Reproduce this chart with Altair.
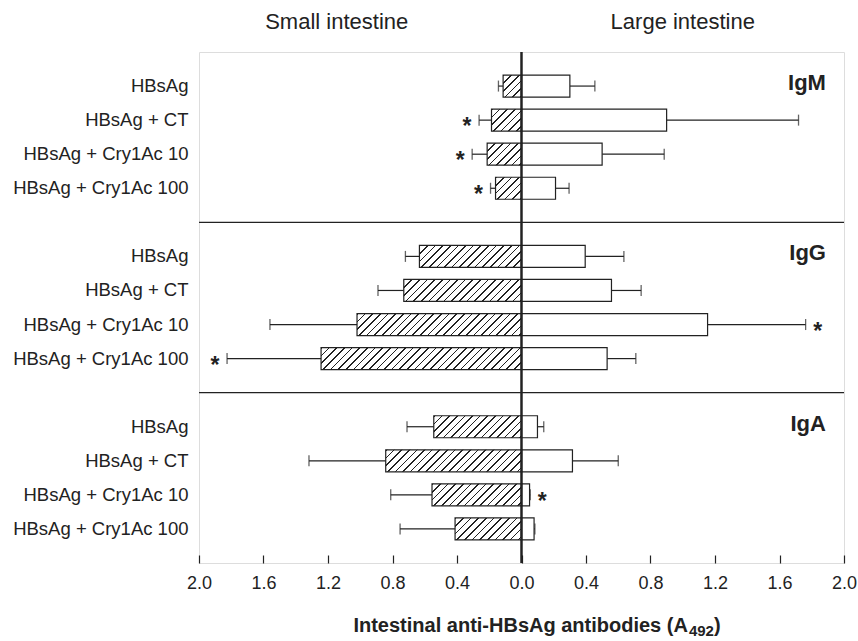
import math
import altair as alt
import pandas as pd

# ---------------- data ----------------
groups = ["HBsAg", "HBsAg + CT", "HBsAg + Cry1Ac 10", "HBsAg + Cry1Ac 100"]
isotypes = ["IgM", "IgG", "IgA"]

small_igm = [0.114, 0.186, 0.213, 0.161]
small_igm_sd = [0.029, 0.077, 0.093, 0.031]
large_igm = [0.300, 0.900, 0.500, 0.211]
large_igm_sd = [0.155, 0.818, 0.385, 0.084]

small_igg = [0.633, 0.730, 1.020, 1.243]
small_igg_sd = [0.087, 0.160, 0.540, 0.583]
large_igg = [0.395, 0.558, 1.154, 0.531]
large_igg_sd = [0.240, 0.184, 0.608, 0.178]

small_iga = [0.544, 0.842, 0.555, 0.412]
small_iga_sd = [0.166, 0.476, 0.256, 0.341]
large_iga = [0.099, 0.316, 0.050, 0.078]
large_iga_sd = [0.039, 0.284, 0.004, 0.005]

star_small = {"IgM": [0, 1, 1, 1], "IgG": [0, 0, 0, 1], "IgA": [0, 0, 0, 0]}
star_large = {"IgM": [0, 0, 0, 0], "IgG": [0, 0, 1, 0], "IgA": [0, 0, 1, 0]}

x_ticks = [-2.0, -1.6, -1.2, -0.8, -0.4, 0.0, 0.4, 0.8, 1.2, 1.6, 2.0]
side_titles = ["Small intestine", "Large intestine"]
side_title_pos = [-1.146, 1.0]
axis_title_main = "Intestinal anti-HBsAg antibodies (A"
axis_title_sub = "492"

# ---------------- layout / style ----------------
W, H = 645, 511
PX = W / 4.0
EDGE = "#222222"
FONT = "Liberation Sans"
NARROW = "Liberation Sans Narrow, Liberation Sans"

series = {
    "IgM": (small_igm, small_igm_sd, large_igm, large_igm_sd),
    "IgG": (small_igg, small_igg_sd, large_igg, large_igg_sd),
    "IgA": (small_iga, small_iga_sd, large_iga, large_iga_sd),
}

records = []
domain = []
for j, iso in enumerate(isotypes):
    sm, smsd, lg, lgsd = series[iso]
    for i, g in enumerate(groups):
        key = f"{iso}|{g}"
        domain.append(key)
        records.append(dict(key=key, iso=iso, group=g, small=sm[i], small_sd=smsd[i],
                            large=lg[i], large_sd=lgsd[i],
                            star_s=star_small[iso][i], star_l=star_large[iso][i]))
    if j < len(isotypes) - 1:
        domain.append(f"s{j}|")
df = pd.DataFrame(records)

pi = 1 - 22 / (H / 15.0)
po = 1 - (1 - pi) / 2
yscale = alt.Scale(domain=domain, paddingInner=pi, paddingOuter=po)
yaxis = alt.Axis(title=None, domain=False, ticks=False, tickSize=0, labelPadding=11,
                 labelFontSize=18.5, labelFont=FONT, labelColor=EDGE,
                 labelExpr="split(datum.value, '|')[1]")
xscale = alt.Scale(domain=[-2, 2], nice=False)
xaxis = alt.Axis(title=None, values=x_ticks, labelExpr="format(abs(datum.value), '.1f')",
                 offset=-8, tickSize=8, domain=False, grid=False, labelFlush=False,
                 labelOverlap=False, labelFontSize=18, labelFont=FONT, labelColor=EDGE,
                 labelPadding=11, tickColor=EDGE, tickWidth=1.2)


def xenc(field):
    return alt.X(f"{field}:Q", scale=xscale, axis=xaxis)


def yenc():
    return alt.Y("key:N", scale=yscale, axis=yaxis, sort=domain)


def hatch(w, h=22.0, s=5.4, t=1.15):
    r = h / w
    a = (1 + r) / (1 + r * r)
    L = (w + h) / math.sqrt(2)
    stops = []
    k = 0
    while k * s / L < 1:
        st = k * s / L
        en = min((k * s + t) / L, 1.0)
        stops += [{"offset": st, "color": "white"}, {"offset": st, "color": EDGE},
                  {"offset": en, "color": EDGE}, {"offset": en, "color": "white"}]
        k += 1
    stops.append({"offset": 1.0, "color": "white"})
    return {"gradient": "linear", "x1": 0, "y1": 0, "x2": a, "y2": a * r, "stops": stops}


base = alt.Chart(df).transform_calculate(
    neg="-datum.small",
    neg_end="-(datum.small + datum.small_sd)",
    pos_end="datum.large + datum.large_sd",
)

layers = []
# hatched (small intestine) bars, one per row so each gets its own 45° hatch
for rec in records:
    layers.append(
        base.transform_filter(alt.FieldEqualPredicate(field="key", equal=rec["key"]))
        .mark_bar(fill=hatch(rec["small"] * PX), stroke=EDGE, strokeWidth=1.2)
        .encode(x=xenc("neg"), y=yenc())
    )

# error bars
layers.append(base.mark_rule(color=EDGE, strokeWidth=1.2).encode(x=xenc("neg"), x2="neg_end:Q", y=yenc()))
layers.append(base.mark_tick(color=EDGE, size=11, thickness=1.3, orient="vertical").encode(x=xenc("neg_end"), y=yenc()))
layers.append(base.mark_rule(color=EDGE, strokeWidth=1.2).encode(x=xenc("large"), x2="pos_end:Q", y=yenc()))
layers.append(base.mark_tick(color=EDGE, size=11, thickness=1.3, orient="vertical").encode(x=xenc("pos_end"), y=yenc()))

# white (large intestine) bars
layers.append(base.mark_bar(fill="white", stroke=EDGE, strokeWidth=1.2).encode(x=xenc("large"), y=yenc()))

# asterisks
star_style = dict(text="*", fontSize=23, fontWeight="bold", font=FONT, color=EDGE,
                  baseline="middle", align="center", dy=7)
layers.append(base.transform_filter("datum.star_s == 1").mark_text(dx=-12, **star_style)
              .encode(x=xenc("neg_end"), y=yenc()))
layers.append(base.transform_filter("datum.star_l == 1").mark_text(dx=12, **star_style)
              .encode(x=xenc("pos_end"), y=yenc()))

# centre line and panel dividers
layers.append(alt.Chart(df).mark_rule(color=EDGE, strokeWidth=1.2).encode(x=alt.X(datum=0, scale=xscale, axis=xaxis)))
div_df = pd.DataFrame({"key": [d for d in domain if d.startswith("s")]})
layers.append(alt.Chart(div_df).mark_rule(color=EDGE, strokeWidth=1.4).encode(y=yenc()))

# isotype labels
lab_df = pd.DataFrame({"key": [f"{iso}|{groups[0]}" for iso in isotypes], "iso": isotypes, "x": [1.888] * 3})
layers.append(alt.Chart(lab_df).mark_text(align="right", baseline="middle", fontSize=22, fontWeight="bold",
                                          font=NARROW, color=EDGE, dy=-3)
              .encode(x=xenc("x"), y=yenc(), text="iso:N"))

# side titles
side_df = pd.DataFrame({"t": side_titles, "x": side_title_pos})
layers.append(alt.Chart(side_df).mark_text(align="center", baseline="middle", fontSize=22, font=FONT, color=EDGE)
              .encode(x=xenc("x"), y=alt.value(-30), text="t:N"))

# x-axis title with subscript
t_df = pd.DataFrame({"main": [axis_title_main], "sub": [axis_title_sub], "close": [")"], "x": [1.032]})
layers.append(alt.Chart(t_df).mark_text(align="right", baseline="middle", fontSize=20, fontWeight="bold",
                                        font=NARROW, color=EDGE)
              .encode(x=xenc("x"), y=alt.value(H + 63), text="main:N"))
layers.append(alt.Chart(t_df).mark_text(align="left", baseline="middle", fontSize=15, fontWeight="bold",
                                        font=NARROW, color=EDGE, dy=5, dx=1)
              .encode(x=xenc("x"), y=alt.value(H + 63), text="sub:N"))
layers.append(alt.Chart(t_df).mark_text(align="left", baseline="middle", fontSize=20, fontWeight="bold",
                                        font=NARROW, color=EDGE, dx=26)
              .encode(x=xenc("x"), y=alt.value(H + 63), text="close:N"))

chart = (
    alt.layer(*layers)
    .properties(width=W, height=H,
                autosize=alt.AutoSizeParams(type="none"),
                padding={"left": 199, "top": 52, "right": 14, "bottom": 78})
    .configure_view(stroke=EDGE, strokeWidth=1.5)
    .configure(background="white")
)

chart.save("out.html", embed_options={"renderer": "svg", "actions": False})
